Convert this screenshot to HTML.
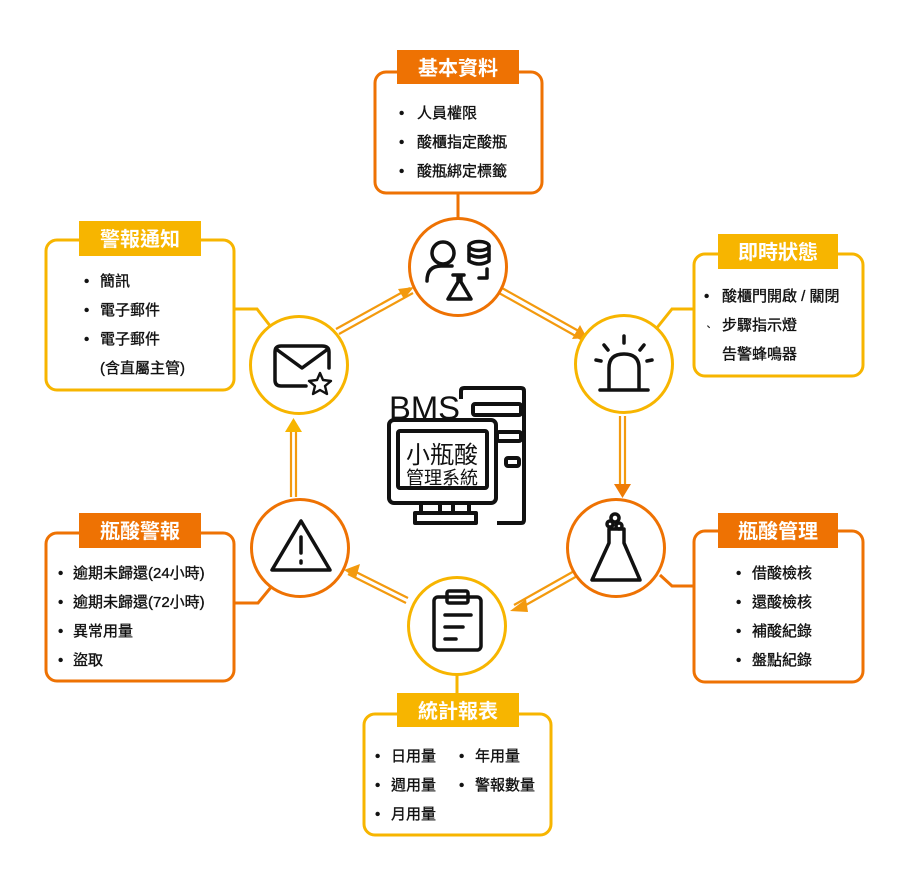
<!DOCTYPE html>
<html><head><meta charset="utf-8"><style>
html,body{margin:0;padding:0;background:#fff;}
svg{display:block;}
text{font-family:"Liberation Sans","Noto Sans CJK TC",sans-serif;}
.t{font-size:20px;font-weight:bold;fill:#fff;text-anchor:middle;}
.i{font-size:15px;fill:#111;stroke:#111;stroke-width:0.35;}
.ic{fill:none;stroke:#111;stroke-width:3.5;stroke-linecap:round;stroke-linejoin:round;}
</style></head><body>
<svg width="916" height="880" viewBox="0 0 916 880" xmlns="http://www.w3.org/2000/svg">
<g fill="none" stroke-width="3">
<line x1="458" y1="193" x2="458" y2="218" stroke="#EE7203"/>
<polyline points="693,309 672,309 656,329" stroke="#F7B500"/>
<polyline points="660,575 672,586 693,586" stroke="#EE7203"/>
<line x1="457" y1="674" x2="457" y2="713" stroke="#F7B500"/>
<polyline points="235,603 258,603 272,586" stroke="#EE7203"/>
<polyline points="235,309 257,309 271,327" stroke="#F7B500"/>
</g>
<g stroke="#F39A0E" stroke-width="2.2" fill="none">
<line x1="336" y1="329" x2="410" y2="288"/><line x1="339" y1="334" x2="413" y2="293"/>
<path d="M398,289 L414,287 L404,299" fill="#F39A0E" stroke="none"/>
<line x1="502" y1="288" x2="584" y2="334"/><line x1="499" y1="293" x2="581" y2="339"/>
<path d="M572,339 L587,338 L580,325" fill="#F39A0E" stroke="none"/>
<line x1="620" y1="416" x2="620" y2="488"/><line x1="625" y1="416" x2="625" y2="488"/>
<path d="M614,484 L631,484 L622.5,498 Z" fill="#EE7B05" stroke="none"/>
<line x1="576" y1="570" x2="514" y2="605"/><line x1="579" y1="575" x2="517" y2="610"/>
<path d="M526,599 L510,611 L528,612" fill="#F39A0E" stroke="none"/>
<line x1="408" y1="598" x2="350" y2="569"/><line x1="406" y1="603" x2="348" y2="574"/>
<path d="M360,564 L344,570 L356,578" fill="#F39A0E" stroke="none"/>
<line x1="291" y1="497" x2="291" y2="428"/><line x1="296" y1="497" x2="296" y2="428"/>
<path d="M285,432 L302,432 L293.5,418 Z" fill="#F7B500" stroke="none"/>
</g>
<g fill="#fff" stroke-width="3">
<rect x="375" y="72" width="167" height="121" rx="11" stroke="#EE7203"/>
<rect x="694" y="254" width="169" height="122" rx="11" stroke="#F7B500"/>
<rect x="694" y="531" width="169" height="151" rx="11" stroke="#EE7203"/>
<rect x="364" y="714" width="187" height="121" rx="11" stroke="#F7B500"/>
<rect x="46" y="533" width="188" height="148" rx="11" stroke="#EE7203"/>
<rect x="46" y="240" width="188" height="150" rx="11" stroke="#F7B500"/>
</g>
<g>
<rect x="397" y="50" width="122" height="34" fill="#EE7203"/>
<rect x="718" y="234" width="120" height="35" fill="#F7B500"/>
<rect x="718" y="513" width="120" height="35" fill="#EE7203"/>
<rect x="397" y="693" width="122" height="34" fill="#F7B500"/>
<rect x="79" y="513" width="122" height="35" fill="#EE7203"/>
<rect x="79" y="221" width="122" height="35" fill="#F7B500"/>
</g>
<text class="t" x="458" y="75">基本資料</text>
<text class="t" x="778" y="259">即時狀態</text>
<text class="t" x="778" y="538">瓶酸管理</text>
<text class="t" x="458" y="718">統計報表</text>
<text class="t" x="140" y="538">瓶酸警報</text>
<text class="t" x="140" y="246">警報通知</text>
<g class="i">
<text x="399" y="118">•</text><text x="417" y="118">人員權限</text>
<text x="399" y="147">•</text><text x="417" y="147">酸櫃指定酸瓶</text>
<text x="399" y="176">•</text><text x="417" y="176">酸瓶綁定標籤</text>

<text x="704" y="301">•</text><text x="722" y="301">酸櫃門開啟 / 關閉</text>
<text x="704" y="330" style="font-size:9px">、</text><text x="722" y="330">步驟指示燈</text>
<text x="722" y="359">告警蜂鳴器</text>

<text x="736" y="578">•</text><text x="752" y="578">借酸檢核</text>
<text x="736" y="607">•</text><text x="752" y="607">還酸檢核</text>
<text x="736" y="636">•</text><text x="752" y="636">補酸紀錄</text>
<text x="736" y="665">•</text><text x="752" y="665">盤點紀錄</text>

<text x="375" y="761">•</text><text x="391" y="761">日用量</text>
<text x="375" y="790">•</text><text x="391" y="790">週用量</text>
<text x="375" y="819">•</text><text x="391" y="819">月用量</text>
<text x="459" y="761">•</text><text x="475" y="761">年用量</text>
<text x="459" y="790">•</text><text x="475" y="790">警報數量</text>

<text x="58" y="578">•</text><text x="73" y="578">逾期未歸還(24小時)</text>
<text x="58" y="607">•</text><text x="73" y="607">逾期未歸還(72小時)</text>
<text x="58" y="636">•</text><text x="73" y="636">異常用量</text>
<text x="58" y="665">•</text><text x="73" y="665">盜取</text>

<text x="84" y="286">•</text><text x="100" y="286">簡訊</text>
<text x="84" y="315">•</text><text x="100" y="315">電子郵件</text>
<text x="84" y="344">•</text><text x="100" y="344">電子郵件</text>
<text x="100" y="373">(含直屬主管)</text>
</g>
<g fill="#fff" stroke-width="3">
<circle cx="458" cy="267" r="48.5" stroke="#EE7203"/>
<circle cx="624" cy="364" r="48.5" stroke="#F7B500"/>
<circle cx="616" cy="548" r="48.5" stroke="#EE7203"/>
<circle cx="457" cy="626" r="48.5" stroke="#F7B500"/>
<circle cx="300" cy="548" r="48.5" stroke="#EE7203"/>
<circle cx="299" cy="365" r="48.5" stroke="#F7B500"/>
</g>
<g class="ic" stroke-width="2.8">
<circle cx="443" cy="253" r="11"/>
<path d="M427,281 Q427,266 441,266 L452,266"/>
<ellipse cx="479" cy="246" rx="10" ry="4.5"/>
<path d="M469,246 V261 Q479,267 489,261 V246 M469,254 Q479,260 489,254"/>
<path d="M487,269 V278 H479"/>
<path d="M458,275 V282 L448,299 H471 L461,282 V275 M453,275 H464"/>
<path d="M609,389 V368 Q609,354 624,354 Q639,354 639,368 V389 M600,390 H648"/>
<path d="M624,336 V343 M604,345 L608,350 M644,345 L640,350 M596,360 L601,361 M652,360 L647,361"/>
<path d="M609,529 V543 L592,580 H640 L624,543 V529 Z"/>
<circle cx="615" cy="518" r="4"/><circle cx="619" cy="526" r="3"/><circle cx="610" cy="524" r="3"/>
<rect x="434" y="597" width="47" height="53" rx="4"/>
<rect x="447" y="591" width="21" height="12" rx="2"/>
<path d="M445,615 H471 M445,627 H463 M445,639 H456"/>
<path d="M301,521 L272,570 H330 Z"/>
<path d="M301,537 V553 M301,561 V563"/>
<path d="M306,386 H281 Q275,386 275,380 V352 Q275,346 281,346 H322 Q329,346 329,352 V368"/>
<path d="M276,349 L302,368 L328,349"/>
<path d="M320,373 L323,380 L331,381 L325,386 L327,394 L320,390 L313,394 L315,386 L309,381 L317,380 Z" stroke-width="2.4"/>
</g>
<g fill="none" stroke="#111" stroke-width="4" stroke-linejoin="round">
<path d="M461,399 V391 Q461,388 464,388 H521 Q524,388 524,391 V520 Q524,523 521,523 H497"/>
<rect x="473" y="404" width="48" height="11" rx="2"/>
<rect x="497" y="432" width="24" height="9" rx="2"/>
<rect x="506" y="458" width="13" height="8" rx="2"/>
<rect x="389" y="420" width="107" height="83" rx="5"/>
<rect x="398" y="431" width="89" height="57" rx="2"/>
<path d="M421,503 V512 M469,503 V512 M415,513 H476 V523 H415 Z M440,503 V512 M453,503 V512"/>
</g>
<text x="389" y="419" textLength="71" lengthAdjust="spacingAndGlyphs" style="font-size:32px;fill:#111">BMS</text>
<text x="442" y="463" style="font-size:24px;fill:#111;text-anchor:middle">小瓶酸</text>
<text x="442" y="484" style="font-size:18px;fill:#111;text-anchor:middle">管理系統</text>
</svg>
</body></html>
